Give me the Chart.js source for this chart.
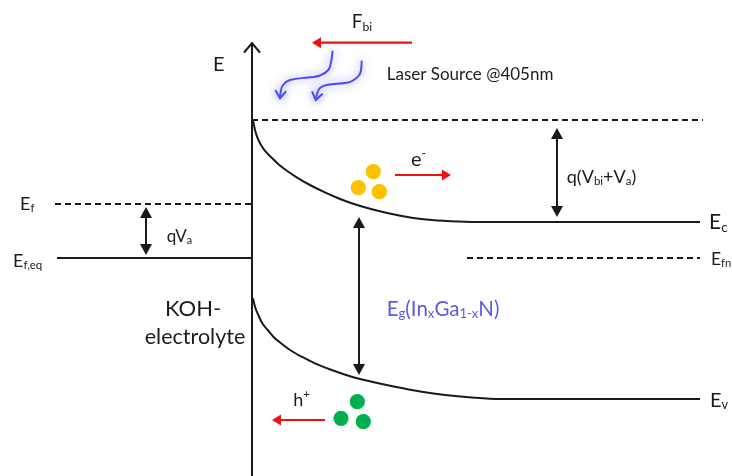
<!DOCTYPE html>
<html>
<head>
<meta charset="utf-8">
<script src="https://cdn.jsdelivr.net/npm/chart.js@4/dist/chart.umd.min.js"></script>
<style>
  html, body { margin: 0; padding: 0; background: #fff; }
  #wrap { width: 732px; height: 476px; }
</style>
</head>
<body>
<div id="wrap"><canvas id="c"></canvas></div>
<script>
// Band diagram of the KOH electrolyte / InxGa1-xN interface.
// x = position (arbitrary units), E = electron energy (arbitrary units, up = higher)

// Conduction band edge (bent near the surface, flat in the bulk)
const ecX = [253, 255, 257.7, 261, 265.7, 272.3, 279.3, 288.3, 298.3, 310, 323.3, 338.3, 351.7, 368.3, 388.3, 411.7, 431.7, 458.3, 485, 700];
const ecE = [356, 346, 337.7, 331, 324.3, 317.7, 311, 304.3, 297.7, 291, 284.3, 277.7, 272.7, 267.7, 262.7, 258.3, 256, 254.5, 254, 254];

// Valence band edge
const evX = [253, 255, 258.3, 262.3, 267.7, 273.3, 281, 290, 301.7, 315, 331.7, 351.7, 371.7, 395, 421.7, 445, 471.7, 500, 700];
const evE = [177.7, 169.3, 161, 152.7, 146, 139.3, 132.7, 126, 119.3, 112.7, 106, 99.3, 94.3, 89.3, 84.3, 81, 78.5, 77, 77];

// Horizontal levels: [x start, x end, energy]
const surfaceLevel = [252, 703, 356];   // Ec at the surface (dashed)
const efLevel      = [55, 252, 272];    // Ef (dashed)
const efEqLevel    = [57, 252, 218];    // Ef,eq (solid)
const efnLevel     = [467, 700, 218];   // Efn (dashed)

// Energy axis: x, bottom, top
const energyAxis = [252, 0, 433];

// Double-headed arrows: [x, E top, E bottom]
const gapArrows = [
  [146, 269, 221],   // qVa
  [557, 348, 259],   // q(Vbi+Va)
  [359, 259, 101]    // Eg
];

// Red drift arrows: [x from, x to, E]
const driftArrows = [
  [412, 312, 433.3],  // built-in field
  [395, 451, 301],    // electrons
  [325, 272, 56]      // holes
];

// Carriers
const electronX = [373.3, 358.3, 379.3];
const electronE = [304.3, 288.3, 284.3];
const holeX = [357.3, 341, 363.3];
const holeE = [74.3, 57.7, 54.3];

// Incoming photons (wavy arrows)
const photon1X = [332.7, 331, 328.3, 320, 310, 290, 283, 280.5, 280];
const photon1E = [425.3, 414, 406, 400.5, 398.7, 396, 391, 383, 377.7];
const photon2X = [361.7, 361, 359.3, 353, 346.7, 326.7, 320, 317, 315.7];
const photon2E = [415.3, 406, 401, 395.5, 393.3, 391, 388, 382, 376];

// Text labels: markup, x, E, size, colour, alignment
const labelText  = ['E', 'F_{bi}', 'Laser Source @405nm', 'e^{-}', 'q(V_{bi}+V_{a})', 'E_{c}', 'E_{fn}',
                    'E_{v}', 'E_{f}', 'E_{f,eq}', 'qV_{a}', 'KOH-', 'electrolyte', 'E_{g}(In_{x}Ga_{1-x}N)', 'h^{+}'];
const labelX     = [213, 351.7, 386.7, 411, 566.7, 709, 711, 710, 20, 13, 166.7, 193, 195, 386.7, 293.3];
const labelE     = [405.3, 447.7, 396, 310, 293, 247, 211, 69, 266, 209, 234.3, 160, 132, 160, 70];
const labelSize  = [20, 19, 17, 20, 18, 21, 17.5, 20, 18, 18, 17, 22, 21.5, 20.5, 18];
const labelColor = ['#1c1c1c', '#1c1c1c', '#1c1c1c', '#1c1c1c', '#1c1c1c', '#1c1c1c', '#1c1c1c', '#1c1c1c',
                    '#1c1c1c', '#1c1c1c', '#1c1c1c', '#1c1c1c', '#1c1c1c', '#5a5ae8', '#1c1c1c'];
const labelAlign = ['left', 'left', 'left', 'left', 'left', 'left', 'left', 'left', 'left', 'left', 'left',
                    'center', 'center', 'left', 'left'];

const LINE = '#1a1a1a';
const zip = (xs, ys) => xs.map((x, i) => ({ x, y: ys[i] }));
const seg = (l) => [{ x: l[0], y: l[2] }, { x: l[1], y: l[2] }];

function lineSet(data, opts) {
  return Object.assign({
    data, showLine: true, pointRadius: 0, borderColor: LINE, borderWidth: 2,
    borderCapStyle: 'butt', fill: false, tension: 0
  }, opts || {});
}

const datasets = [
  lineSet([{ x: energyAxis[0], y: energyAxis[1] }, { x: energyAxis[0], y: energyAxis[2] }]),
  lineSet(zip(ecX, ecE), { cubicInterpolationMode: 'monotone' }),
  lineSet(zip(evX, evE), { cubicInterpolationMode: 'monotone' }),
  lineSet(seg(surfaceLevel), { borderDash: [6, 4] }),
  lineSet(seg(efLevel), { borderDash: [6, 4] }),
  lineSet(seg(efEqLevel)),
  lineSet(seg(efnLevel), { borderDash: [6, 4] }),
  lineSet(zip(photon1X, photon1E), { borderColor: '#4b4bf2', borderWidth: 2, tension: 0.45, glow: true }),
  lineSet(zip(photon2X, photon2E), { borderColor: '#4b4bf2', borderWidth: 2, tension: 0.45, glow: true }),
  { data: zip(electronX, electronE), pointRadius: 7.6, pointBackgroundColor: '#ffc000', pointBorderWidth: 0, showLine: false },
  { data: zip(holeX, holeE), pointRadius: 7.6, pointBackgroundColor: '#00b050', pointBorderWidth: 0, showLine: false }
];

function drawRich(ctx, str, x, y, size, color, align) {
  const parts = [];
  const re = /([_^])\{([^}]*)\}|([^_^]+)/g;
  let m;
  while ((m = re.exec(str))) {
    if (m[3]) parts.push({ t: m[3], k: 'n' });
    else parts.push({ t: m[2], k: m[1] === '_' ? 'sub' : 'sup' });
  }
  let w = 0;
  parts.forEach(p => {
    p.s = p.k === 'n' ? size : size * 0.64;
    ctx.font = p.s + 'px Lato';
    p.w = ctx.measureText(p.t).width;
    w += p.w;
  });
  let cx = align === 'center' ? x - w / 2 : x;
  ctx.fillStyle = color;
  ctx.textAlign = 'left';
  ctx.textBaseline = 'alphabetic';
  parts.forEach(p => {
    ctx.font = p.s + 'px Lato';
    const dy = p.k === 'sub' ? size * 0.12 : p.k === 'sup' ? -size * 0.42 : 0;
    ctx.fillText(p.t, cx, y + dy);
    cx += p.w;
  });
}

function filledHead(ctx, tx, ty, dx, dy, len, half, color) {
  const n = Math.hypot(dx, dy), ux = dx / n, uy = dy / n;
  const bx = tx - ux * len, by = ty - uy * len;
  ctx.fillStyle = color;
  ctx.beginPath();
  ctx.moveTo(tx, ty);
  ctx.lineTo(bx - uy * half, by + ux * half);
  ctx.lineTo(bx + uy * half, by - ux * half);
  ctx.closePath();
  ctx.fill();
}

function openHead(ctx, tx, ty, dx, dy, len, half, color, width) {
  const n = Math.hypot(dx, dy), ux = dx / n, uy = dy / n;
  const bx = tx - ux * len, by = ty - uy * len;
  ctx.strokeStyle = color;
  ctx.lineWidth = width;
  ctx.lineCap = 'round';
  ctx.beginPath();
  ctx.moveTo(bx - uy * half, by + ux * half);
  ctx.lineTo(tx, ty);
  ctx.lineTo(bx + uy * half, by - ux * half);
  ctx.stroke();
}

const overlay = {
  id: 'overlay',
  beforeDatasetDraw(chart, args) {
    if (chart.data.datasets[args.index].glow) {
      const ctx = chart.ctx;
      ctx.save();
      ctx.shadowColor = 'rgba(120,120,255,0.9)';
      ctx.shadowBlur = 10;
    }
  },
  afterDatasetDraw(chart, args) {
    if (chart.data.datasets[args.index].glow) chart.ctx.restore();
  },
  afterDraw(chart) {
    const ctx = chart.ctx;
    const X = v => chart.scales.x.getPixelForValue(v);
    const Y = v => chart.scales.y.getPixelForValue(v);
    ctx.save();

    // axis arrow head
    openHead(ctx, X(energyAxis[0]), Y(energyAxis[2]), 0, -1, 9, 7.5, LINE, 2);

    // double-headed arrows
    gapArrows.forEach(a => {
      const x = X(a[0]), y1 = Y(a[1]), y2 = Y(a[2]);
      ctx.strokeStyle = LINE;
      ctx.lineWidth = 2;
      ctx.lineCap = 'butt';
      ctx.beginPath();
      ctx.moveTo(x, y1 + 8);
      ctx.lineTo(x, y2 - 8);
      ctx.stroke();
      filledHead(ctx, x, y1, 0, -1, 11, 6, LINE);
      filledHead(ctx, x, y2, 0, 1, 11, 6, LINE);
    });

    // red drift arrows
    driftArrows.forEach(a => {
      const x1 = X(a[0]), x2 = X(a[1]), y = Y(a[2]);
      const dir = Math.sign(x2 - x1);
      ctx.strokeStyle = '#f01010';
      ctx.lineWidth = 2.2;
      ctx.lineCap = 'butt';
      ctx.beginPath();
      ctx.moveTo(x1, y);
      ctx.lineTo(x2 - dir * 6, y);
      ctx.stroke();
      filledHead(ctx, x2, y, dir, 0, 9, 5.5, '#f01010');
    });

    // photon arrow heads
    [[photon1X, photon1E], [photon2X, photon2E]].forEach(p => {
      const n = p[0].length;
      const tx = X(p[0][n - 1]), ty = Y(p[1][n - 1]);
      const px = X(p[0][n - 2]), py = Y(p[1][n - 2]);
      ctx.save();
      ctx.shadowColor = 'rgba(120,120,255,0.9)';
      ctx.shadowBlur = 8;
      openHead(ctx, tx, ty, tx - px, ty - py, 7, 5, '#4b4bf2', 2);
      ctx.restore();
    });

    // labels
    labelText.forEach((t, i) => {
      drawRich(ctx, t, X(labelX[i]), Y(labelE[i]), labelSize[i], labelColor[i], labelAlign[i]);
    });
    ctx.restore();
  }
};

new Chart(document.getElementById('c'), {
  type: 'scatter',
  data: { datasets },
  options: {
    responsive: true,
    maintainAspectRatio: false,
    animation: false,
    events: [],
    layout: { padding: 0, autoPadding: false },
    plugins: { legend: { display: false }, tooltip: { enabled: false } },
    scales: {
      x: { type: 'linear', min: 0, max: 732, display: false },
      y: { type: 'linear', min: 0, max: 476, display: false }
    }
  },
  plugins: [overlay]
});
</script>
</body>
</html>
